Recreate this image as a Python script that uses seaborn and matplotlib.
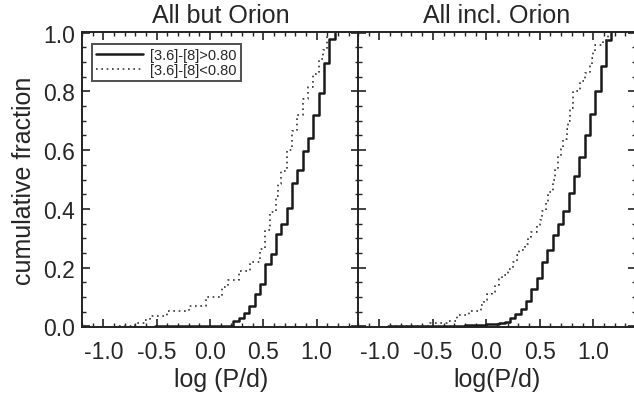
import numpy as np
import pandas as pd
import matplotlib
matplotlib.use("Agg")
import matplotlib.pyplot as plt
from matplotlib.ticker import MultipleLocator
import seaborn as sns

# ---- data (step-function cumulative distributions) ----
# Left panel: "All but Orion"
left_red_x = [-0.52, 0.22, 0.27, 0.32, 0.37, 0.42, 0.47, 0.52, 0.57, 0.62, 0.67,
              0.72, 0.77, 0.82, 0.87, 0.92, 0.97, 1.02, 1.07, 1.12, 1.17]
left_red_y = [0.0, 0.019, 0.028, 0.045, 0.071, 0.109, 0.146, 0.212, 0.245, 0.313, 0.349,
              0.402, 0.487, 0.533, 0.598, 0.643, 0.718, 0.795, 0.896, 0.977, 1.0]
left_blue_x = [-0.85, -0.70, -0.61, -0.56, -0.40, -0.20, -0.04, 0.11, 0.17, 0.27, 0.375,
               0.47, 0.52, 0.56, 0.62, 0.64, 0.67, 0.72, 0.77, 0.82, 0.87, 0.92,
               0.97, 1.02, 1.06, 1.10]
left_blue_y = [0.0, 0.011, 0.022, 0.034, 0.051, 0.071, 0.101, 0.135, 0.158, 0.188, 0.22,
               0.265, 0.327, 0.39, 0.445, 0.485, 0.53, 0.60, 0.665, 0.72, 0.775, 0.815,
               0.86, 0.91, 0.94, 1.0]

# Right panel: "All incl. Orion"
right_red_x = [-0.92, -0.5, -0.2, 0.0, 0.12, 0.17, 0.22, 0.27, 0.32, 0.37, 0.42, 0.47,
               0.52, 0.57, 0.62, 0.67, 0.72, 0.77, 0.82, 0.87, 0.92, 0.97, 1.02,
               1.07, 1.12, 1.17]
right_red_y = [0.0, 0.003, 0.005, 0.007, 0.010, 0.015, 0.030, 0.042, 0.059, 0.087, 0.126,
               0.166, 0.22, 0.261, 0.312, 0.349, 0.394, 0.454, 0.513, 0.575, 0.65,
               0.722, 0.80, 0.885, 0.975, 1.0]
right_blue_x = [-0.90, -0.53, -0.37, -0.27, -0.16, -0.05, -0.02, 0.01, 0.05, 0.08, 0.12,
                0.15, 0.20, 0.25, 0.29, 0.31, 0.36, 0.39, 0.42, 0.47, 0.50, 0.52,
                0.56, 0.58, 0.62, 0.64, 0.67, 0.70, 0.72, 0.75, 0.76, 0.78, 0.81,
                0.875, 0.92, 0.97, 0.99, 1.00, 1.02, 1.09, 1.14]
right_blue_y = [0.0, 0.011, 0.019, 0.039, 0.051, 0.073, 0.09, 0.11, 0.118, 0.141, 0.163,
                0.175, 0.197, 0.22, 0.242, 0.259, 0.282, 0.304, 0.321, 0.344, 0.361, 0.394,
                0.423, 0.457, 0.50, 0.535, 0.58, 0.603, 0.637, 0.671, 0.699, 0.744, 0.80,
                0.834, 0.863, 0.885, 0.913, 0.936, 0.958, 0.975, 1.0]

titles = ["All but Orion", "All incl. Orion"]
xlabels = ["log (P/d)", "log(P/d)"]
ylabel = "cumulative fraction"
legend_labels = ["[3.6]-[8]>0.80", "[3.6]-[8]<0.80"]
xticks = [-1.0, -0.5, 0.0, 0.5, 1.0]
yticks = [0.0, 0.2, 0.4, 0.6, 0.8, 1.0]

# ---- style ----
sns.set_theme(style="white")
plt.rcParams["font.family"] = ["Liberation Sans", "DejaVu Sans"]
plt.rcParams["axes.linewidth"] = 1.4
plt.rcParams["axes.edgecolor"] = "#222222"
plt.rcParams["axes.unicode_minus"] = False

TXT = "#262626"
fig = plt.figure(figsize=(6.34, 4.02), dpi=100)
axL = fig.add_axes([0.1293, 0.1833, 0.4375, 0.7353])
axR = fig.add_axes([0.5647, 0.1833, 0.4385, 0.7353])

panels = [
    (axL, left_red_x, left_red_y, left_blue_x, left_blue_y),
    (axR, right_red_x, right_red_y, right_blue_x, right_blue_y),
]

for i, (ax, rx, ry, bx, by) in enumerate(panels):
    dr = pd.DataFrame({"x": rx, "y": ry})
    db = pd.DataFrame({"x": bx, "y": by})
    sns.lineplot(data=dr, x="x", y="y", ax=ax, estimator=None, sort=True,
                 drawstyle="steps-post", color="#1a1a1a", linewidth=1.8,
                 label=legend_labels[0], legend=False)
    sns.lineplot(data=db, x="x", y="y", ax=ax, estimator=None, sort=True,
                 drawstyle="steps-post", color="#333333", linewidth=1.2,
                 linestyle=(0, (1, 2.2)), label=legend_labels[1], legend=False)
    ax.set_xlim(-1.2, 1.4)
    ax.set_ylim(-0.003, 1.003)
    ax.set_xticks(xticks)
    ax.set_xticklabels([f"{t:.1f}" for t in xticks], fontsize=16.5, color=TXT)
    ax.set_yticks(yticks)
    ax.xaxis.set_minor_locator(MultipleLocator(0.1))
    ax.yaxis.set_minor_locator(MultipleLocator(0.05))
    ax.tick_params(which="both", direction="in", top=True, right=True,
                   bottom=True, left=True, color="#222222")
    ax.tick_params(which="major", length=6, width=1.2)
    ax.tick_params(which="minor", length=3, width=1.0)
    ax.tick_params(axis="x", which="major", pad=9)
    ax.set_title(titles[i], fontsize=18, pad=7, color=TXT)
    ax.set_xlabel(xlabels[i], fontsize=18, labelpad=3, color=TXT)
    if i == 0:
        ax.set_yticklabels([f"{t:.1f}" for t in yticks], fontsize=16.5, color=TXT)
        ax.set_ylabel(ylabel, fontsize=18, labelpad=5, color=TXT)
        ax.tick_params(axis="y", which="major", pad=5)
        leg = ax.legend(loc="upper left", bbox_to_anchor=(0.035, 0.96),
                        fontsize=10.5, frameon=True, fancybox=False,
                        edgecolor="#222222", handlelength=3.2, handletextpad=0.5,
                        borderpad=0.3, labelspacing=0.05, borderaxespad=0.0)
        leg.get_frame().set_linewidth(1.4)
        for t in leg.get_texts():
            t.set_color(TXT)
    else:
        ax.set_yticklabels([])
        ax.set_ylabel("")
    for s in ax.spines.values():
        s.set_visible(True)

fig.savefig("out.png", dpi=100)
